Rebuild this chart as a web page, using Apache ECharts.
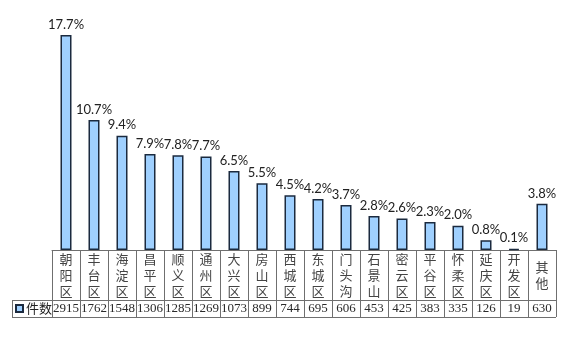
<!DOCTYPE html>
<html>
<head>
<meta charset="utf-8">
<script src="https://cdn.jsdelivr.net/npm/echarts@6/dist/echarts.min.js"></script>
<style>
  html, body { margin: 0; padding: 0; background: #fff; }
  #chart { width: 570px; height: 337px; }
</style>
</head>
<body>
<div id="chart"></div>
<script>
// District names, shown one character per line in the table header cells
const districts = ['朝阳区', '丰台区', '海淀区', '昌平区', '顺义区', '通州区', '大兴区', '房山区', '西城区',
  '东城区', '门头沟', '石景山', '密云区', '平谷区', '怀柔区', '延庆区', '开发区', '其他'];
// Number of cases per district (table row)
const counts = [2915, 1762, 1548, 1306, 1285, 1269, 1073, 899, 744, 695, 606, 453, 425, 383, 335, 126, 19, 630];
// Share of all cases, in percent (bar heights and labels)
const shares = [17.7, 10.7, 9.4, 7.9, 7.8, 7.7, 6.5, 5.5, 4.5, 4.2, 3.7, 2.8, 2.6, 2.3, 2.0, 0.8, 0.1, 3.8];
const seriesName = '件数';

const chart = echarts.init(document.getElementById('chart'), null, { renderer: 'canvas' });

const cjk = '"Noto Sans CJK SC", sans-serif';
const gridLine = '#6f6f6f';

chart.setOption({
  animation: false,
  backgroundColor: '#ffffff',
  grid: { left: 52, right: 14, top: 7, bottom: 87 },
  legend: {
    data: [seriesName],
    left: 15,
    top: 302,
    padding: 0,
    icon: 'rect',
    itemWidth: 7,
    itemHeight: 7,
    itemGap: 4,
    textStyle: { fontFamily: cjk, fontSize: 13, color: '#222', padding: [0, 0, 0, -2] }
  },
  xAxis: [
    {
      type: 'category',
      data: districts,
      boundaryGap: true,
      axisLine: { show: true, lineStyle: { color: gridLine, width: 1 } },
      axisTick: { show: true, length: 67, lineStyle: { color: gridLine, width: 1 } },
      axisLabel: {
        interval: 0,
        margin: 25,
        verticalAlign: 'middle',
        fontFamily: cjk,
        fontSize: 13,
        lineHeight: 16,
        color: '#444',
        formatter: v => v.split('').join('\n')
      }
    },
    {
      type: 'category',
      data: districts,
      position: 'bottom',
      offset: 50,
      axisLine: { show: false },
      axisTick: { show: false },
      axisLabel: {
        interval: 0,
        margin: 9,
        verticalAlign: 'middle',
        fontFamily: '"Liberation Serif", serif',
        fontSize: 13,
        color: '#2a2a2a',
        formatter: (v, i) => String(counts[i])
      }
    }
  ],
  yAxis: {
    type: 'value',
    min: 0,
    max: 20,
    show: false,
    splitLine: { show: false }
  },
  series: [
    {
      name: seriesName,
      type: 'bar',
      xAxisIndex: 0,
      data: shares,
      barWidth: 11,
      itemStyle: { color: '#9fd0ff', borderColor: '#1b2a3f', borderWidth: 1.5 },
      label: {
        show: true,
        position: 'top',
        distance: 4,
        fontFamily: 'Lato, sans-serif',
        fontSize: 13,
        color: '#222',
        formatter: p => p.value.toFixed(1) + '%'
      }
    }
  ],
  graphic: [
    { type: 'line', shape: { x1: 12, y1: 300.5, x2: 556, y2: 300.5 }, style: { stroke: gridLine, lineWidth: 1 } },
    { type: 'line', shape: { x1: 12, y1: 317.5, x2: 556, y2: 317.5 }, style: { stroke: gridLine, lineWidth: 1 } },
    { type: 'line', shape: { x1: 12.5, y1: 300, x2: 12.5, y2: 318 }, style: { stroke: gridLine, lineWidth: 1 } }
  ]
});
</script>
</body>
</html>
